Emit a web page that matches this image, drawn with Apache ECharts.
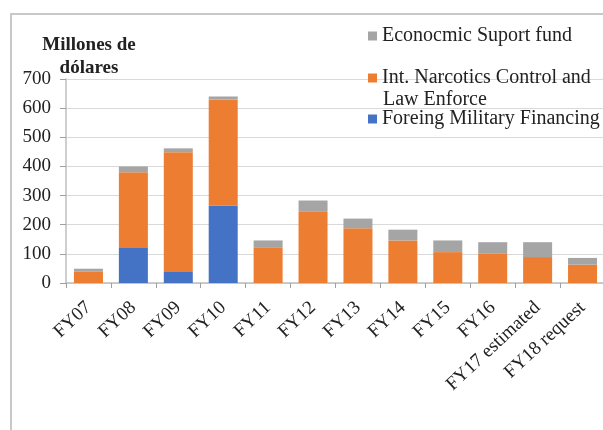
<!DOCTYPE html>
<html>
<head>
<meta charset="utf-8">
<script src="https://cdn.jsdelivr.net/npm/echarts@6/dist/echarts.min.js"></script>
<style>html,body{margin:0;padding:0;background:#fff}#c{width:603px;height:430px}</style>
</head>
<body>
<div id="c"></div>
<script>
const categories = ['FY07','FY08','FY09','FY10','FY11','FY12','FY13','FY14','FY15','FY16','FY17 estimated','FY18 request'];
const fmfValues = [0,120,38,266,0,0,0,0,0,0,0,0];
const incleValues = [40,260,411,364,123,244,188,146,106,100,89,63];
const esfValues = [9,20,13,10,23,39,33,37,40,40,51,23];
const yTicks = [0,100,200,300,400,500,600,700];
const nameESF = 'Econocmic Suport fund';
const nameINCLE = 'Int. Narcotics Control and';
const nameFMF = 'Foreing Military Financing';

const serif = '"Liberation Serif", "DejaVu Serif", serif';
const txt = '#222';
const chart = echarts.init(document.getElementById('c'), null, {renderer:'canvas'});
function legendAt(name, top){
  return {data:[name], orient:'vertical', left:368, top:top, padding:0, icon:'rect',
    itemWidth:9, itemHeight:9, selectedMode:false,
    textStyle:{fontFamily:serif, fontSize:20, color:txt, lineHeight:20}};
}
chart.setOption({
  animation:false,
  backgroundColor:'#fff',
  graphic:[
    {type:'rect', shape:{x:11, y:14, width:620, height:440}, style:{fill:'none', stroke:'#C8C8C8', lineWidth:2}, z:-1},
    {type:'text', left:383, top:90, style:{text:'Law Enforce', font:'20px ' + serif, fill:txt}}
  ],
  legend:[legendAt(nameESF, 26), legendAt(nameINCLE, 68), legendAt(nameFMF, 109)],
  grid:{left:66, right:-2, top:79, bottom:147, containLabel:false, outerBoundsMode:'none'},
  xAxis:{type:'category', data:categories,
    axisLine:{lineStyle:{color:'#BFBFBF', width:1.5}},
    axisTick:{show:true, length:5, lineStyle:{color:'#A0A0A0'}},
    axisLabel:{interval:0, rotate:43, margin:22, fontFamily:serif, fontSize:19, color:txt}
  },
  yAxis:{type:'value', min:0, max:700, interval:100,
    name:'Millones de\ndólares', nameLocation:'end', nameGap:45, nameMoveOverlap:false,
    nameTextStyle:{fontFamily:serif, fontSize:19, fontWeight:'bold', color:txt, lineHeight:23,
      align:'center', verticalAlign:'top', padding:[0,0,0,46]},
    axisLine:{show:true, lineStyle:{color:'#BFBFBF', width:1.5}},
    axisTick:{show:true, length:6, lineStyle:{color:'#A0A0A0'}},
    splitLine:{lineStyle:{color:'#D9D9D9'}},
    axisLabel:{margin:15, fontFamily:serif, fontSize:19, color:txt,
      formatter:function(v){return yTicks.indexOf(v) >= 0 ? String(v) : '';}}
  },
  series:[
    {name:nameFMF, type:'bar', stack:'t', data:fmfValues, barWidth:29, itemStyle:{color:'#4472C4'}},
    {name:nameINCLE, type:'bar', stack:'t', data:incleValues, barWidth:29, itemStyle:{color:'#ED7D31'}},
    {name:nameESF, type:'bar', stack:'t', data:esfValues, barWidth:29, itemStyle:{color:'#A5A5A5'}}
  ]
});
</script>
</body>
</html>
